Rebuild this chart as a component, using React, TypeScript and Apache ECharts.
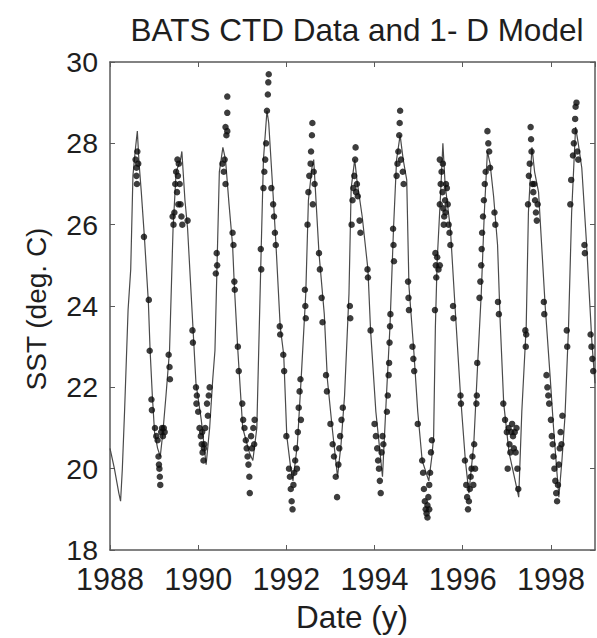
import React, { useEffect, useRef } from "react";
import * as echarts from "echarts";

const titleText = "BATS CTD Data and 1- D Model";
const xAxisTitle = "Date (y)";
const yAxisTitle = "SST (deg. C)";

// 1-D model SST trace: [decimal year, deg C]
const modelYears = [
  1988.0, 1988.1, 1988.2, 1988.24, 1988.28, 1988.33, 1988.41, 1988.47, 1988.52, 1988.58, 1988.62, 1988.66, 1988.71, 1988.78, 1988.87, 1988.91, 1988.96,
  1989.01, 1989.08, 1989.14, 1989.2, 1989.27, 1989.35, 1989.43, 1989.5, 1989.6, 1989.63, 1989.7, 1989.76, 1989.88, 1989.95,
  1990.07, 1990.18, 1990.26, 1990.33, 1990.38, 1990.43, 1990.48, 1990.56, 1990.62, 1990.7, 1990.78, 1990.82, 1990.9,
  1991.01, 1991.16, 1991.24, 1991.33, 1991.42, 1991.48, 1991.56, 1991.6, 1991.69, 1991.76, 1991.86, 1991.94,
  1992.01, 1992.1, 1992.15, 1992.25, 1992.34, 1992.44, 1992.5, 1992.58, 1992.62, 1992.74, 1992.86, 1992.93,
  1993.04, 1993.16, 1993.24, 1993.32, 1993.42, 1993.47, 1993.55, 1993.6, 1993.72, 1993.85, 1993.91,
  1994.03, 1994.18, 1994.27, 1994.35, 1994.43, 1994.5, 1994.58, 1994.65, 1994.73, 1994.78, 1994.89, 1994.98,
  1995.08, 1995.23, 1995.3, 1995.34, 1995.38, 1995.42, 1995.5, 1995.55, 1995.6, 1995.72, 1995.83, 1995.95,
  1996.06, 1996.14, 1996.25, 1996.34, 1996.42, 1996.49, 1996.56, 1996.62, 1996.7, 1996.79, 1996.85, 1996.93,
  1997.05, 1997.27, 1997.34, 1997.44, 1997.49, 1997.57, 1997.63, 1997.72, 1997.87, 1997.98,
  1998.06, 1998.18, 1998.25, 1998.32, 1998.4, 1998.47, 1998.56, 1998.62, 1998.7, 1998.81, 1998.93, 1999.0,
];
const modelSST = [
  20.5, 20.0, 19.4, 19.2, 20.0, 21.4, 23.9, 24.9, 27.2, 27.9, 28.3, 27.5, 26.8, 25.7, 24.1, 22.9, 21.8,
  20.9, 20.5, 20.3, 20.9, 21.8, 22.9, 25.9, 27.3, 27.6, 27.8, 26.6, 25.9, 23.5, 22.1,
  21.2, 20.1, 21.0, 22.2, 22.9, 25.1, 27.3, 27.9, 27.6, 26.5, 25.5, 24.5, 22.9,
  21.0, 20.4, 20.2, 21.0, 25.0, 27.6, 28.8, 28.5, 26.9, 25.6, 23.5, 22.8,
  20.8, 20.0, 19.7, 20.6, 22.3, 24.3, 26.6, 27.4, 27.6, 25.3, 23.8, 22.2,
  21.0, 19.8, 20.6, 21.8, 24.3, 26.9, 27.6, 27.1, 26.2, 24.9, 23.4,
  21.4, 19.8, 21.8, 23.5, 25.9, 27.6, 28.2, 27.6, 27.1, 24.5, 22.9, 21.4,
  20.2, 19.7, 20.3, 20.8, 23.5, 25.1, 26.8, 28.0, 27.0, 25.9, 23.9, 21.8,
  20.2, 19.4, 20.6, 22.6, 24.3, 26.3, 27.8, 27.5, 26.7, 25.5, 23.6, 21.6,
  20.4, 19.3, 21.4, 23.5, 26.3, 27.9, 27.3, 26.8, 24.0, 22.3,
  21.0, 19.3, 20.2, 21.3, 23.5, 26.3, 28.4, 28.0, 27.4, 25.5, 23.1, 22.1,
];

// BATS CTD observations: [decimal year, deg C]
const ctdPoints: [number, number][] = [
  [1988.58, 27.6], [1988.6, 27.4], [1988.62, 27.8], [1988.64, 27.5], [1988.6, 27.2], [1988.61, 27.0],
  [1988.77, 25.7], [1988.88, 24.15], [1988.9, 22.9], [1988.94, 21.7], [1988.95, 21.44],
  [1989.02, 21.0], [1989.05, 20.8], [1989.08, 20.7], [1989.1, 20.3], [1989.12, 20.0], [1989.13, 19.8], [1989.14, 19.6],
  [1989.16, 20.9], [1989.18, 21.0], [1989.2, 20.8], [1989.22, 21.0], [1989.24, 20.9], [1989.11, 20.1],
  [1989.33, 22.8], [1989.35, 22.5], [1989.36, 22.2],
  [1989.42, 26.2], [1989.44, 26.0], [1989.46, 26.3], [1989.48, 27.0], [1989.5, 27.3], [1989.52, 26.8], [1989.54, 27.2],
  [1989.56, 27.5], [1989.58, 27.0], [1989.6, 26.5], [1989.62, 26.2], [1989.64, 26.0], [1989.55, 26.5], [1989.53, 27.6],
  [1989.76, 26.1], [1989.87, 23.4], [1989.88, 23.1], [1989.95, 22.0], [1989.96, 21.6], [1989.97, 21.8],
  [1990.0, 21.4], [1990.03, 21.0], [1990.06, 20.8], [1990.08, 20.6], [1990.1, 20.4], [1990.12, 20.2], [1990.14, 20.6],
  [1990.16, 21.0], [1990.2, 21.6], [1990.22, 21.3], [1990.24, 21.8], [1990.26, 22.0], [1990.09, 20.9], [1990.13, 20.5],
  [1990.4, 24.8], [1990.42, 25.3], [1990.43, 25.0],
  [1990.66, 29.15], [1990.66, 28.75], [1990.62, 28.4], [1990.64, 28.2], [1990.66, 28.3], [1990.6, 27.6], [1990.58, 27.3],
  [1990.55, 27.5], [1990.62, 27.0],
  [1990.78, 25.8], [1990.8, 25.5], [1990.82, 24.6], [1990.83, 24.4], [1990.9, 23.0], [1990.92, 22.4],
  [1991.0, 21.6], [1991.02, 21.2], [1991.05, 21.0], [1991.08, 20.7], [1991.1, 20.5], [1991.12, 20.3], [1991.14, 20.1],
  [1991.16, 19.8], [1991.17, 19.4], [1991.2, 20.8], [1991.22, 20.5], [1991.25, 21.0], [1991.27, 20.6], [1991.28, 21.2],
  [1991.42, 25.4], [1991.43, 24.9],
  [1991.5, 27.3], [1991.52, 27.6], [1991.54, 28.0], [1991.56, 28.8], [1991.58, 29.2], [1991.59, 29.5], [1991.6, 29.7], [1991.48, 26.9],
  [1991.66, 26.9], [1991.7, 26.5], [1991.72, 26.2], [1991.74, 25.8], [1991.76, 25.5],
  [1991.85, 23.5], [1991.86, 23.3], [1991.93, 22.8], [1991.95, 22.4],
  [1992.0, 20.8], [1992.06, 20.0], [1992.08, 19.8], [1992.1, 19.5], [1992.12, 19.2], [1992.14, 19.0], [1992.16, 19.6],
  [1992.18, 19.9], [1992.2, 20.2], [1992.22, 20.5], [1992.24, 20.0], [1992.26, 20.9],
  [1992.28, 21.5], [1992.3, 21.9], [1992.32, 22.2], [1992.33, 21.2], [1992.42, 24.4], [1992.43, 24.0], [1992.44, 23.7],
  [1992.48, 26.0], [1992.5, 26.8], [1992.52, 27.2], [1992.55, 27.5], [1992.58, 28.2], [1992.59, 28.5], [1992.62, 27.3],
  [1992.64, 27.0], [1992.6, 26.5], [1992.56, 27.8],
  [1992.74, 25.3], [1992.76, 24.9], [1992.8, 24.2], [1992.82, 23.6], [1992.9, 22.3], [1992.92, 21.9],
  [1993.0, 21.1], [1993.05, 20.6], [1993.08, 20.3], [1993.12, 19.8], [1993.15, 19.3], [1993.18, 20.1], [1993.2, 20.5],
  [1993.22, 20.8], [1993.25, 21.2], [1993.28, 21.5],
  [1993.44, 24.0], [1993.45, 23.7],
  [1993.48, 26.0], [1993.5, 26.6], [1993.52, 26.9], [1993.54, 27.2], [1993.56, 27.6], [1993.57, 27.9], [1993.58, 26.8],
  [1993.6, 27.0], [1993.62, 26.7], [1993.66, 26.1], [1993.68, 25.8],
  [1993.84, 24.9], [1993.85, 24.7], [1993.91, 23.4],
  [1994.0, 21.1], [1994.03, 20.8], [1994.06, 20.5], [1994.08, 20.2], [1994.1, 20.0], [1994.12, 19.7], [1994.14, 19.4],
  [1994.16, 20.4], [1994.18, 20.8], [1994.2, 20.6],
  [1994.28, 21.4], [1994.3, 21.8], [1994.32, 22.3], [1994.33, 22.6], [1994.34, 23.1], [1994.35, 23.5], [1994.36, 23.8],
  [1994.42, 25.9], [1994.43, 25.5], [1994.44, 25.1],
  [1994.5, 27.2], [1994.52, 27.5], [1994.54, 27.8], [1994.56, 28.2], [1994.57, 28.5], [1994.58, 28.8], [1994.6, 27.6],
  [1994.64, 27.3], [1994.66, 27.0],
  [1994.76, 24.6], [1994.77, 24.2], [1994.78, 23.9], [1994.86, 23.0], [1994.88, 22.7], [1994.9, 22.4], [1994.98, 21.1],
  [1995.08, 20.2], [1995.1, 19.9], [1995.12, 19.5], [1995.14, 19.2], [1995.16, 19.0], [1995.18, 18.9], [1995.2, 19.1],
  [1995.22, 19.3], [1995.24, 19.6], [1995.26, 19.9], [1995.28, 20.4], [1995.3, 20.7], [1995.2, 18.8], [1995.24, 19.0],
  [1995.38, 25.3], [1995.39, 25.0], [1995.4, 24.7], [1995.42, 25.2], [1995.45, 24.9], [1995.48, 25.0], [1995.37, 23.9],
  [1995.48, 26.5], [1995.5, 27.0], [1995.52, 27.3], [1995.54, 26.8], [1995.56, 26.4], [1995.58, 26.2], [1995.6, 26.6],
  [1995.62, 27.0], [1995.64, 26.9], [1995.66, 26.5], [1995.68, 26.0], [1995.7, 25.8], [1995.72, 25.5], [1995.55, 27.5],
  [1995.48, 27.6], [1995.57, 26.0], [1995.61, 26.3],
  [1995.78, 24.0], [1995.79, 23.7], [1995.95, 21.8], [1995.96, 21.6],
  [1996.05, 20.2], [1996.08, 19.6], [1996.1, 19.3], [1996.12, 19.0], [1996.14, 19.2], [1996.16, 19.5], [1996.18, 19.8],
  [1996.2, 20.0], [1996.22, 20.3], [1996.24, 19.6], [1996.26, 20.6], [1996.28, 20.0],
  [1996.33, 22.6], [1996.32, 21.8], [1996.31, 21.6],
  [1996.38, 24.2], [1996.4, 24.6], [1996.42, 25.0], [1996.43, 25.4], [1996.44, 25.8],
  [1996.46, 26.2], [1996.48, 26.6], [1996.5, 27.0], [1996.52, 27.3],
  [1996.56, 28.3], [1996.58, 28.0], [1996.6, 27.8], [1996.62, 27.4],
  [1996.72, 26.3], [1996.74, 26.0], [1996.8, 24.1], [1996.82, 23.8],
  [1996.92, 21.6], [1996.96, 21.2], [1997.0, 20.9], [1997.04, 21.0], [1997.06, 20.6], [1997.08, 20.4], [1997.1, 20.9],
  [1997.12, 21.1], [1997.14, 20.8], [1997.16, 20.5], [1997.18, 20.9], [1997.2, 20.4], [1997.22, 21.0], [1997.24, 20.0],
  [1997.26, 19.5], [1997.02, 20.0],
  [1997.42, 23.4], [1997.43, 23.0], [1997.44, 23.3],
  [1997.48, 26.5], [1997.5, 27.2], [1997.52, 27.5], [1997.54, 28.4], [1997.55, 28.1], [1997.56, 27.8], [1997.58, 27.0],
  [1997.6, 26.8], [1997.62, 27.0], [1997.64, 26.6], [1997.66, 26.3], [1997.68, 26.1], [1997.7, 26.5],
  [1997.84, 24.1], [1997.85, 23.8], [1997.9, 22.3], [1997.92, 22.0], [1997.94, 21.8], [1997.96, 21.6],
  [1998.0, 21.2], [1998.02, 20.8], [1998.04, 20.6], [1998.06, 20.3], [1998.08, 20.0], [1998.1, 19.7], [1998.12, 19.4],
  [1998.14, 19.2], [1998.16, 19.6], [1998.18, 20.1], [1998.2, 20.5], [1998.22, 20.9], [1998.24, 20.6], [1998.26, 21.3],
  [1998.36, 23.4], [1998.37, 23.0], [1998.44, 26.5], [1998.46, 27.1],
  [1998.5, 27.7], [1998.52, 28.0], [1998.54, 28.3], [1998.55, 28.6], [1998.56, 28.9], [1998.58, 29.0], [1998.6, 27.8],
  [1998.62, 27.6],
  [1998.76, 25.5], [1998.77, 25.3], [1998.9, 23.3], [1998.92, 23.0], [1998.94, 22.7], [1998.96, 22.4],
];

const FONT = "'Liberation Sans', Arial, Helvetica, sans-serif";
const AXIS_COLOR = "#5a5a5a";
const TEXT_COLOR = "#1e1e1e";

export default function App() {
  const ref = useRef<HTMLDivElement>(null);

  useEffect(() => {
    document.body.style.margin = "0";
    if (!ref.current) return;
    const chart = echarts.init(ref.current, undefined, { renderer: "svg" });

    const axisLine = { show: true, onZero: false, lineStyle: { color: AXIS_COLOR, width: 1.5 } };
    const axisTick = { show: true, inside: true, length: 5, lineStyle: { color: AXIS_COLOR, width: 1 } };

    chart.setOption({
      animation: false,
      backgroundColor: "#ffffff",
      textStyle: { fontFamily: FONT },
      title: {
        text: titleText,
        left: 352,
        top: 9,
        textAlign: "center",
        textStyle: { fontFamily: FONT, fontSize: 31.5, fontWeight: "normal", color: TEXT_COLOR, lineHeight: 31 },
      },
      grid: { left: 110, right: 2, top: 62, bottom: 88, containLabel: false },
      xAxis: [
        {
          type: "value",
          position: "bottom",
          min: 1988,
          max: 1999,
          interval: 2,
          axisLine,
          axisTick,
          splitLine: { show: false },
          axisLabel: {
            margin: 18,
            fontSize: 30.5,
            lineHeight: 22,
            fontFamily: FONT,
            color: TEXT_COLOR,
            showMaxLabel: false,
            formatter: (v: number) => (v % 2 === 0 ? String(v) : ""),
          },
        },
        {
          type: "value",
          position: "top",
          min: 1988,
          max: 1999,
          interval: 2,
          axisLine,
          axisTick,
          splitLine: { show: false },
          axisLabel: { show: false },
        },
      ],
      yAxis: [
        {
          type: "value",
          position: "left",
          min: 18,
          max: 30,
          interval: 2,
          axisLine,
          axisTick,
          splitLine: { show: false },
          axisLabel: { margin: 12, fontSize: 28.5, lineHeight: 22, fontFamily: FONT, color: TEXT_COLOR },
        },
        {
          type: "value",
          position: "right",
          min: 18,
          max: 30,
          interval: 2,
          axisLine,
          axisTick,
          splitLine: { show: false },
          axisLabel: { show: false },
        },
      ],
      graphic: [
        {
          type: "text",
          x: 352,
          y: 617,
          style: {
            text: xAxisTitle,
            fontSize: 31.5,
            fontFamily: FONT,
            fill: TEXT_COLOR,
            textAlign: "center",
            textVerticalAlign: "middle",
          },
        },
        {
          type: "text",
          x: 36,
          y: 309,
          rotation: Math.PI / 2,
          style: {
            text: yAxisTitle,
            fontSize: 28,
            fontFamily: FONT,
            fill: TEXT_COLOR,
            textAlign: "center",
            textVerticalAlign: "middle",
          },
        },
      ],
      series: [
        {
          type: "line",
          name: "1-D Model",
          xAxisIndex: 0,
          yAxisIndex: 0,
          data: modelYears.map((y, i) => [y, modelSST[i]]),
          showSymbol: false,
          symbol: "none",
          lineStyle: { color: "#4a4a4a", width: 1.2 },
          z: 2,
        },
        {
          type: "scatter",
          name: "BATS CTD",
          xAxisIndex: 0,
          yAxisIndex: 0,
          data: ctdPoints,
          symbol: "circle",
          symbolSize: 6.5,
          itemStyle: { color: "#0d0d0d" },
          z: 3,
        },
      ],
    });

    return () => {
      chart.dispose();
    };
  }, []);

  return <div ref={ref} style={{ width: 597, height: 638 }} />;
}
